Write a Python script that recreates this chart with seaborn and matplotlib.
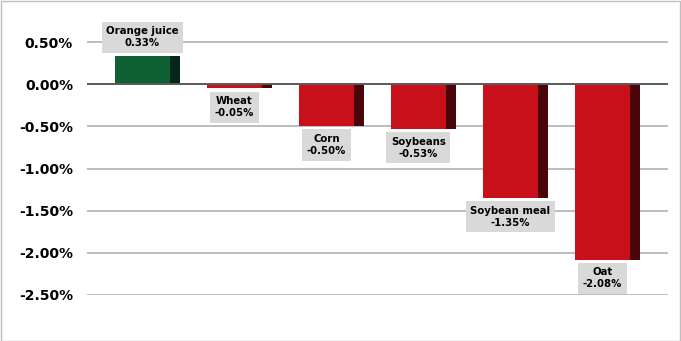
import matplotlib
matplotlib.use("Agg")
import matplotlib.pyplot as plt
import seaborn as sns
import pandas as pd
import numpy as np

categories = ["Orange juice", "Wheat", "Corn", "Soybeans", "Soybean meal", "Oat"]
values = [0.33, -0.05, -0.50, -0.53, -1.35, -2.08]
yticks = [0.5, 0.0, -0.5, -1.0, -1.5, -2.0, -2.5]

front_pos, side_pos = "#0F6033", "#05261A"
front_neg, side_neg = "#C8101A", "#4A050A"

df = pd.DataFrame({"cat": categories, "val": values})
front_cols = {c: (front_pos if v >= 0 else front_neg) for c, v in zip(categories, values)}
side_cols = {c: (side_pos if v >= 0 else side_neg) for c, v in zip(categories, values)}

sns.set_theme(style="white")
plt.rcParams["font.family"] = ["DejaVu Sans"]

fig = plt.figure(figsize=(6.81, 3.41), dpi=100)
ax = fig.add_axes([87/681, 1-295/341, (668-87)/681, (295-21)/341])

full_w = 0.707
front_w = 0.598

# dark side (full bar)
sns.barplot(data=df, x="cat", y="val", hue="cat", palette=side_cols, width=full_w,
            dodge=False, legend=False, ax=ax, saturation=1, zorder=3)
n_side = len(ax.patches)
# front face
sns.barplot(data=df, x="cat", y="val", hue="cat", palette=front_cols, width=full_w,
            dodge=False, legend=False, ax=ax, saturation=1, zorder=4)
for p in ax.patches[n_side:]:
    p.set_width(front_w)
for p in ax.patches:
    p.set_edgecolor("none")

ax.set_xlim(-0.658, 5.658)
ax.set_ylim(-2.5, 0.75)
ax.set_yticks(yticks)
ax.set_yticklabels([f"{t:.2f}%" for t in yticks], fontsize=10, fontweight="bold", color="#000000")
ax.tick_params(axis="y", length=0, pad=10)
ax.set_xticks([])
ax.set_xlabel("")
ax.set_ylabel("")
for s in ax.spines.values():
    s.set_visible(False)
for t in yticks:
    if t == 0:
        ax.axhline(0, color="#595959", lw=1.4, zorder=5)
    else:
        ax.axhline(t, color="#B8B8B8", lw=1.3, zorder=1)

for i, (c, v) in enumerate(zip(categories, values)):
    xc = i - full_w/2 + front_w/2
    off = 6 if v >= 0 else -5.5
    ax.annotate(f"{c}\n{v:.2f}%", xy=(xc, v), xytext=(0, off), textcoords="offset points",
                ha="center", va="bottom" if v >= 0 else "top", fontsize=7.3,
                fontweight="bold", color="#000000", linespacing=1.25, zorder=6,
                bbox=dict(boxstyle="square,pad=0.45", fc="#D9D9D9", ec="none"))

# outer border
fig.patches.append(plt.Rectangle((0.5/681, 0.5/341), 1-1.5/681, 1-1.5/341, transform=fig.transFigure,
                                 fill=False, ec="#BFBFBF", lw=1))

fig.savefig("out.png", dpi=100)
